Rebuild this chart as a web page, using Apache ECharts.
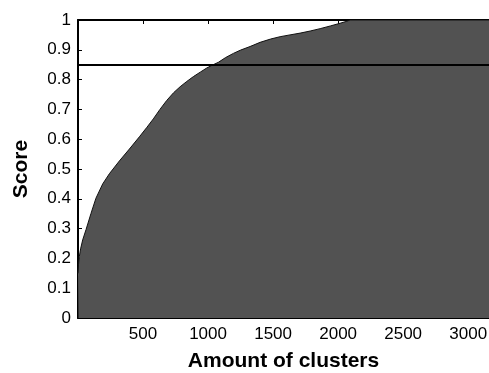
<!DOCTYPE html>
<html><head><meta charset="utf-8">
<script src="https://cdn.jsdelivr.net/npm/echarts@6/dist/echarts.min.js"></script>
<style>html,body{margin:0;padding:0;background:#fff}#c{width:489px;height:373px}</style>
</head><body><div id="c"></div>
<script>
var clusters = [0, 4, 10, 20, 36, 62, 100, 138, 190, 241, 318, 395, 472, 530, 579, 630, 682, 735, 785, 837, 887, 940, 990, 1035, 1079, 1135, 1195, 1250, 1323, 1400, 1480, 1554, 1630, 1708, 1785, 1862, 1940, 2015, 2060, 2092, 2600, 3160];
var scores = [0.15, 0.18, 0.206, 0.232, 0.262, 0.297, 0.351, 0.402, 0.450, 0.484, 0.527, 0.567, 0.608, 0.640, 0.668, 0.700, 0.730, 0.756, 0.776, 0.794, 0.810, 0.825, 0.839, 0.849, 0.858, 0.874, 0.888, 0.899, 0.911, 0.925, 0.936, 0.944, 0.950, 0.956, 0.963, 0.971, 0.980, 0.989, 0.995, 1.0, 1.0, 1.0];
var threshold = 0.85;
var xTicks = [500, 1000, 1500, 2000, 2500, 3000];
var yTicks = ['0','0.1','0.2','0.3','0.4','0.5','0.6','0.7','0.8','0.9','1'];

var data = clusters.map(function(x, i){ return [x, scores[i]]; });
var font = 'Liberation Sans, Arial, sans-serif';
var chart = echarts.init(document.getElementById('c'), null, {renderer:'canvas'});
chart.setOption({
  animation: false,
  grid: {left: 78, right: 0, top: 20, bottom: 55, containLabel: false, outerBoundsMode: 'none'},
  xAxis: [{
    type: 'value', min: 0, max: 3160, interval: 500,
    name: 'Amount of clusters', nameLocation: 'middle', nameGap: 33,
    nameTextStyle: {fontFamily: font, fontWeight: 'bold', fontSize: 21, color: '#000'},
    axisLine: {show: true, onZero: false, lineStyle: {color: '#000', width: 2}},
    axisTick: {show: true, inside: true, length: 4, lineStyle: {color: '#000'}},
    axisLabel: {fontFamily: font, fontSize: 17, color: '#000', margin: 8,
      formatter: function(v){ return xTicks.indexOf(v) >= 0 ? String(v) : ''; }},
    splitLine: {show: false}
  }, {
    type: 'value', min: 0, max: 3160, interval: 500, position: 'top',
    axisLine: {show: true, onZero: false, lineStyle: {color: '#000', width: 2}},
    axisTick: {show: true, inside: true, length: 4, lineStyle: {color: '#000'}},
    axisLabel: {show: false}, splitLine: {show: false}
  }],
  yAxis: {
    type: 'value', min: 0, max: 1, interval: 0.1,
    name: 'Score', nameLocation: 'middle', nameGap: 46,
    nameTextStyle: {fontFamily: font, fontWeight: 'bold', fontSize: 21, color: '#000'},
    axisLine: {show: true, onZero: false, lineStyle: {color: '#000', width: 2}},
    axisTick: {show: true, inside: true, length: 4, lineStyle: {color: '#000'}},
    axisLabel: {fontFamily: font, fontSize: 17, color: '#000', margin: 7,
      formatter: function(v){ return yTicks[Math.round(v*10)]; }},
    splitLine: {show: false}
  },
  series: [{
    type: 'line', data: data, symbol: 'none', smooth: false,
    lineStyle: {color: '#111', width: 1},
    areaStyle: {color: '#525252', opacity: 1},
    markLine: {
      silent: true, symbol: ['none','none'], label: {show: false},
      lineStyle: {color: '#000', width: 2, type: 'solid'},
      data: [{yAxis: threshold}]
    },
    z: 1
  }]
});
</script></body></html>
